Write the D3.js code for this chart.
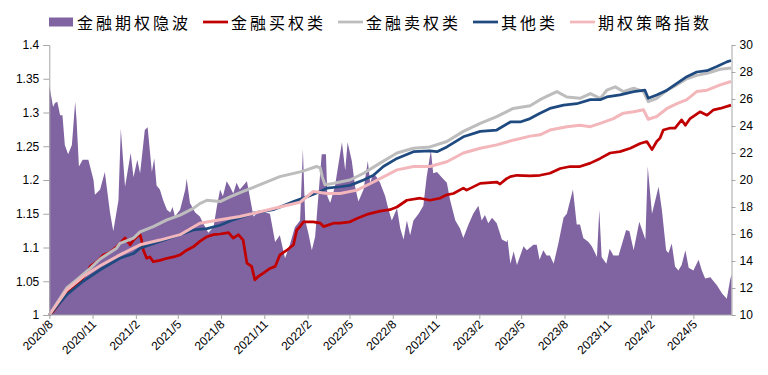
<!DOCTYPE html>
<html>
<head>
<meta charset="utf-8">
<script src="https://cdn.jsdelivr.net/npm/d3@7"></script>
<style>
  body { margin: 0; background: #fff; }
  svg { display: block; font-family: "Liberation Sans", Arial, sans-serif; }
</style>
</head>
<body>
<div id="chart"></div>
<script>
// 金融期权隐波 (right axis)
const ivData = [
  ["2020-08-01",27.0],["2020-08-09",25.4],["2020-08-13",25.7],["2020-08-18",25.8],["2020-08-24",24.8],
  ["2020-08-29",24.8],["2020-09-03",22.6],["2020-09-10",21.9],["2020-09-18",22.6],["2020-09-25",25.8],
  ["2020-09-28",24.4],["2020-10-03",21.0],["2020-10-11",21.5],["2020-10-23",21.5],["2020-11-03",20.0],
  ["2020-11-06",18.9],["2020-11-17",19.3],["2020-11-27",20.6],["2020-12-08",17.6],["2020-12-15",16.2],
  ["2020-12-26",18.5],["2020-12-31",23.8],["2021-01-09",19.5],["2021-01-21",22.0],["2021-01-27",20.2],
  ["2021-02-04",21.5],["2021-02-10",20.5],["2021-02-20",23.7],["2021-02-26",23.9],["2021-03-07",20.6],
  ["2021-03-12",21.6],["2021-03-17",19.6],["2021-03-24",19.3],["2021-03-31",18.5],["2021-04-08",17.8],
  ["2021-04-15",17.6],["2021-04-20",18.0],["2021-04-25",17.3],["2021-05-06",17.8],["2021-05-17",19.3],
  ["2021-05-20",20.1],["2021-05-27",18.3],["2021-06-07",17.6],["2021-06-17",17.3],["2021-06-24",16.8],
  ["2021-07-05",16.1],["2021-07-16",16.5],["2021-07-23",18.0],["2021-07-30",19.3],["2021-08-05",18.8],
  ["2021-08-13",19.9],["2021-08-20",19.5],["2021-08-27",19.0],["2021-09-03",19.8],["2021-09-10",19.3],
  ["2021-09-25",19.9],["2021-10-09",17.3],["2021-10-23",17.7],["2021-11-13",17.5],["2021-11-24",15.4],
  ["2021-12-04",15.9],["2021-12-15",14.2],["2021-12-26",15.3],["2022-01-05",16.5],["2022-01-16",17.0],
  ["2022-01-22",22.3],["2022-01-27",17.0],["2022-02-03",16.0],["2022-02-10",14.8],["2022-02-17",15.8],
  ["2022-03-03",21.9],["2022-03-12",21.9],["2022-03-15",18.8],["2022-03-21",18.3],["2022-03-31",19.5],
  ["2022-04-15",22.8],["2022-04-22",20.7],["2022-04-27",22.8],["2022-05-06",21.4],["2022-05-13",19.5],
  ["2022-05-20",18.4],["2022-05-31",19.3],["2022-06-09",21.4],["2022-06-14",19.8],["2022-06-21",20.5],
  ["2022-06-28",20.2],["2022-07-05",19.8],["2022-07-16",18.8],["2022-07-23",17.8],["2022-07-30",17.0],
  ["2022-08-10",17.9],["2022-08-17",16.4],["2022-08-24",15.6],["2022-08-31",17.0],["2022-09-07",15.9],
  ["2022-09-14",17.0],["2022-09-25",17.5],["2022-10-05",18.1],["2022-10-12",20.2],["2022-10-21",22.2],
  ["2022-10-26",20.5],["2022-11-03",20.6],["2022-11-13",20.2],["2022-11-24",19.8],["2022-12-01",18.5],
  ["2022-12-12",17.0],["2022-12-22",16.4],["2022-12-29",15.7],["2023-01-09",16.7],["2023-01-19",17.5],
  ["2023-01-30",18.1],["2023-02-06",17.0],["2023-02-13",17.4],["2023-02-20",16.8],["2023-02-28",17.2],
  ["2023-03-10",16.8],["2023-03-21",15.6],["2023-03-31",15.4],["2023-04-02",15.6],["2023-04-08",13.8],
  ["2023-04-15",14.7],["2023-04-22",13.7],["2023-05-06",15.1],["2023-05-13",14.8],["2023-05-27",15.2],
  ["2023-06-03",15.2],["2023-06-09",14.1],["2023-06-17",14.8],["2023-06-24",14.4],["2023-07-01",14.4],
  ["2023-07-09",13.8],["2023-07-19",15.3],["2023-07-30",17.2],["2023-08-06",17.5],["2023-08-19",19.3],
  ["2023-08-27",16.7],["2023-09-03",16.7],["2023-09-10",15.7],["2023-09-21",15.4],["2023-09-28",15.1],
  ["2023-10-09",14.3],["2023-10-14",17.8],["2023-10-19",14.3],["2023-10-29",13.8],["2023-11-05",14.9],
  ["2023-11-13",14.4],["2023-11-24",14.4],["2023-12-10",16.3],["2023-12-17",16.2],["2023-12-26",14.8],
  ["2024-01-07",16.9],["2024-01-20",15.6],["2024-01-25",21.0],["2024-02-03",17.5],["2024-02-17",19.5],
  ["2024-02-24",17.8],["2024-03-04",14.8],["2024-03-09",14.6],["2024-03-16",15.3],["2024-03-23",13.6],
  ["2024-03-30",13.3],["2024-04-06",13.7],["2024-04-14",14.8],["2024-04-21",13.5],["2024-05-01",13.3],
  ["2024-05-12",14.1],["2024-05-19",13.3],["2024-05-26",12.7],["2024-06-06",12.8],["2024-06-13",12.5],
  ["2024-06-20",12.2],["2024-07-01",11.6],["2024-07-11",11.2],["2024-07-18",12.6],["2024-07-21",13.0]
];

// 金融买权类
const buyCall = [
  ["2020-08-01",1.000],["2020-08-09",1.005],["2020-09-07",1.032],["2020-09-28",1.044],["2020-10-20",1.062],
  ["2020-10-27",1.072],["2020-11-10",1.079],["2020-11-24",1.089],["2020-12-08",1.093],["2020-12-22",1.101],
  ["2021-01-09",1.114],["2021-01-20",1.104],["2021-01-27",1.111],["2021-02-03",1.116],["2021-02-10",1.119],
  ["2021-02-13",1.111],["2021-02-17",1.096],["2021-02-24",1.084],["2021-03-03",1.086],["2021-03-10",1.079],
  ["2021-03-24",1.081],["2021-04-08",1.084],["2021-04-22",1.086],["2021-05-06",1.089],["2021-05-20",1.096],
  ["2021-06-03",1.101],["2021-06-17",1.109],["2021-07-02",1.116],["2021-07-16",1.119],["2021-07-30",1.120],
  ["2021-08-17",1.122],["2021-08-27",1.114],["2021-09-07",1.119],["2021-09-17",1.111],["2021-09-25",1.077],
  ["2021-10-05",1.072],["2021-10-12",1.052],["2021-10-19",1.057],["2021-10-30",1.062],["2021-11-13",1.069],
  ["2021-11-24",1.072],["2021-12-04",1.089],["2021-12-19",1.096],["2022-01-02",1.104],["2022-01-09",1.126],
  ["2022-01-16",1.131],["2022-01-23",1.138],["2022-02-13",1.138],["2022-02-28",1.136],["2022-03-07",1.131],
  ["2022-03-28",1.136],["2022-04-11",1.136],["2022-05-02",1.138],["2022-05-17",1.143],["2022-06-07",1.149],
  ["2022-07-05",1.154],["2022-07-26",1.156],["2022-08-10",1.160],["2022-08-31",1.170],["2022-09-28",1.173],
  ["2022-10-19",1.170],["2022-11-09",1.173],["2022-11-24",1.178],["2022-12-08",1.180],["2022-12-29",1.188],
  ["2023-01-05",1.185],["2023-02-03",1.195],["2023-03-10",1.197],["2023-03-17",1.194],["2023-03-31",1.202],
  ["2023-04-08",1.205],["2023-04-22",1.207],["2023-05-20",1.206],["2023-06-10",1.207],["2023-07-01",1.210],
  ["2023-07-23",1.217],["2023-08-13",1.220],["2023-09-03",1.220],["2023-09-25",1.225],["2023-10-16",1.232],
  ["2023-11-06",1.240],["2023-11-27",1.242],["2023-12-19",1.247],["2024-01-09",1.254],["2024-01-23",1.257],
  ["2024-02-03",1.245],["2024-02-13",1.257],["2024-02-20",1.262],["2024-02-27",1.274],["2024-03-13",1.277],
  ["2024-03-23",1.277],["2024-04-06",1.289],["2024-04-14",1.281],["2024-04-24",1.291],["2024-05-15",1.301],
  ["2024-05-30",1.296],["2024-06-13",1.304],["2024-06-27",1.306],["2024-07-20",1.311]
];

// 金融卖权类
const sellPut = [
  ["2020-08-01",1.000],["2020-09-07",1.040],["2020-09-28",1.052],["2020-10-27",1.069],["2020-11-17",1.083],
  ["2020-12-22",1.099],["2020-12-29",1.106],["2021-01-27",1.114],["2021-02-10",1.123],["2021-03-10",1.131],
  ["2021-04-08",1.141],["2021-05-06",1.148],["2021-06-03",1.158],["2021-06-17",1.165],["2021-07-02",1.170],
  ["2021-07-30",1.168],["2021-08-20",1.175],["2021-09-17",1.183],["2021-10-23",1.193],["2021-12-04",1.205],
  ["2022-01-16",1.212],["2022-01-30",1.215],["2022-02-20",1.220],["2022-02-28",1.218],["2022-03-04",1.205],
  ["2022-03-10",1.193],["2022-03-28",1.195],["2022-04-11",1.197],["2022-05-02",1.200],["2022-05-31",1.210],
  ["2022-07-05",1.225],["2022-08-10",1.240],["2022-09-14",1.247],["2022-10-19",1.249],["2022-11-24",1.257],
  ["2022-12-29",1.272],["2023-02-03",1.284],["2023-03-10",1.294],["2023-04-14",1.306],["2023-05-20",1.310],
  ["2023-06-10",1.319],["2023-07-01",1.326],["2023-07-16",1.331],["2023-08-06",1.323],["2023-09-03",1.321],
  ["2023-09-25",1.328],["2023-10-16",1.321],["2023-10-30",1.333],["2023-11-17",1.338],["2023-12-04",1.331],
  ["2023-12-26",1.336],["2024-01-16",1.331],["2024-01-26",1.316],["2024-02-13",1.321],["2024-03-06",1.333],
  ["2024-03-27",1.341],["2024-04-17",1.350],["2024-05-08",1.355],["2024-05-30",1.358],["2024-06-27",1.364],
  ["2024-07-20",1.366]
];

// 其他类
const others = [
  ["2020-08-01",1.000],["2020-09-07",1.030],["2020-10-12",1.050],["2020-11-17",1.067],["2020-12-29",1.084],
  ["2021-01-27",1.091],["2021-02-10",1.099],["2021-03-24",1.109],["2021-05-06",1.119],["2021-06-03",1.126],
  ["2021-07-02",1.128],["2021-07-30",1.133],["2021-08-27",1.141],["2021-10-09",1.151],["2021-11-20",1.156],
  ["2022-01-02",1.168],["2022-01-30",1.175],["2022-02-28",1.183],["2022-03-14",1.188],["2022-04-11",1.190],
  ["2022-05-02",1.192],["2022-05-31",1.200],["2022-06-21",1.207],["2022-07-12",1.220],["2022-08-10",1.232],
  ["2022-09-14",1.242],["2022-10-19",1.243],["2022-11-03",1.242],["2022-11-24",1.249],["2022-12-29",1.264],
  ["2023-02-03",1.272],["2023-03-10",1.274],["2023-04-08",1.286],["2023-04-29",1.286],["2023-05-20",1.291],
  ["2023-06-10",1.299],["2023-07-01",1.306],["2023-07-30",1.311],["2023-08-27",1.313],["2023-09-25",1.319],
  ["2023-10-16",1.319],["2023-10-30",1.323],["2023-11-27",1.326],["2023-12-26",1.331],["2024-01-19",1.333],
  ["2024-01-26",1.321],["2024-02-13",1.326],["2024-03-06",1.333],["2024-03-27",1.343],["2024-04-17",1.353],
  ["2024-05-08",1.360],["2024-05-30",1.362],["2024-06-20",1.368],["2024-07-11",1.375],["2024-07-20",1.377]
];

// 期权策略指数
const strategyIdx = [
  ["2020-08-01",1.000],["2020-09-07",1.037],["2020-10-12",1.057],["2020-11-17",1.073],["2020-12-29",1.089],
  ["2021-02-10",1.104],["2021-03-24",1.111],["2021-05-06",1.119],["2021-06-17",1.136],["2021-07-30",1.141],
  ["2021-09-10",1.146],["2021-10-23",1.153],["2021-12-04",1.160],["2022-01-16",1.167],["2022-02-13",1.183],
  ["2022-03-14",1.180],["2022-04-11",1.180],["2022-05-17",1.185],["2022-06-21",1.197],["2022-08-10",1.215],
  ["2022-09-14",1.220],["2022-10-19",1.220],["2022-11-24",1.227],["2022-12-29",1.240],["2023-02-03",1.247],
  ["2023-03-10",1.252],["2023-04-14",1.259],["2023-05-20",1.265],["2023-06-10",1.267],["2023-07-01",1.274],
  ["2023-08-06",1.279],["2023-09-03",1.281],["2023-09-25",1.279],["2023-10-16",1.284],["2023-11-13",1.291],
  ["2023-12-04",1.299],["2023-12-26",1.301],["2024-01-16",1.304],["2024-01-26",1.290],["2024-02-13",1.294],
  ["2024-03-06",1.306],["2024-03-27",1.313],["2024-04-17",1.319],["2024-05-08",1.331],["2024-05-30",1.333],
  ["2024-06-27",1.341],["2024-07-20",1.346]
];

const xTickDates = ["2020-08-01","2020-11-01","2021-02-01","2021-05-01","2021-08-01","2021-11-01",
  "2022-02-01","2022-05-01","2022-08-01","2022-11-01","2023-02-01","2023-05-01","2023-08-01",
  "2023-11-01","2024-02-01","2024-05-01"];
const leftTicks = [1, 1.05, 1.1, 1.15, 1.2, 1.25, 1.3, 1.35, 1.4];
const rightTicks = [10, 12, 14, 16, 18, 20, 22, 24, 26, 28, 30];

const width = 768, height = 375;
const plot = { left: 49.3, right: 731.5, top: 45, bottom: 315 };
const parse = d3.timeParse('%Y-%m-%d');

const svg = d3.select('#chart').append('svg')
  .attr('width', width).attr('height', height);

const x = d3.scaleTime()
  .domain([parse('2020-08-01'), parse('2024-07-21')])
  .range([plot.left, plot.right]);
const yL = d3.scaleLinear().domain([1, 1.4]).range([plot.bottom, plot.top]);
const yR = d3.scaleLinear().domain([10, 30]).range([plot.bottom, plot.top]);

const toPts = arr => arr.map(([d, v]) => ({ date: parse(d), v }));

// area (right axis)
svg.append('path')
  .datum(toPts(ivData))
  .attr('fill', '#8064A2')
  .attr('d', d3.area().x(d => x(d.date)).y0(yR(10)).y1(d => yR(d.v)));

// lines (left axis)
const line = d3.line().x(d => x(d.date)).y(d => yL(d.v));
const lineSeries = [
  { data: buyCall, color: '#C00000', w: 2.75 },
  { data: sellPut, color: '#BDBDBD', w: 3 },
  { data: others, color: '#1F4A80', w: 2.75 },
  { data: strategyIdx, color: '#F3B7BB', w: 3 },
];
lineSeries.forEach(s => {
  svg.append('path')
    .datum(toPts(s.data))
    .attr('fill', 'none')
    .attr('stroke', s.color)
    .attr('stroke-width', s.w)
    .attr('stroke-linejoin', 'round')
    .attr('d', line);
});

// axes
const axisColor = '#A6A6A6';
function styleAxis(g) {
  g.select('.domain').attr('stroke', axisColor);
  g.selectAll('.tick line').attr('stroke', axisColor);
  g.selectAll('.tick text').attr('fill', '#000').attr('font-size', 12)
    .attr('font-family', '"Liberation Sans", Arial, sans-serif');
}

svg.append('g')
  .attr('transform', `translate(${plot.left},0)`)
  .call(d3.axisLeft(yL).tickValues(leftTicks).tickSize(6).tickPadding(4)
    .tickFormat(d => String(+d.toFixed(2))))
  .call(styleAxis);

svg.append('g')
  .attr('transform', `translate(${plot.right},0)`)
  .call(d3.axisRight(yR).tickValues(rightTicks).tickSize(4).tickPadding(4))
  .call(styleAxis);

const xAxis = svg.append('g')
  .attr('transform', `translate(0,${plot.bottom})`)
  .call(d3.axisBottom(x).tickValues(xTickDates.map(parse)).tickSize(4)
    .tickFormat(d3.timeFormat('%Y/%-m')))
  .call(styleAxis);
xAxis.select('.domain').attr('d', `M${plot.left},0H${plot.right}`);
xAxis.selectAll('.tick text')
  .attr('text-anchor', 'end')
  .attr('x', 0).attr('y', 0).attr('dy', 0)
  .attr('transform', 'translate(4,10) rotate(-45)');

// legend
const legendItems = [
  { name: '金融期权隐波', type: 'rect', color: '#8064A2' },
  { name: '金融买权类', type: 'line', color: '#C00000' },
  { name: '金融卖权类', type: 'line', color: '#BDBDBD' },
  { name: '其他类', type: 'line', color: '#1F4A80' },
  { name: '期权策略指数', type: 'line', color: '#F3B7BB' },
];
const legend = svg.append('g').attr('transform', 'translate(49,22)');
let lx = 0;
legendItems.forEach(item => {
  if (item.type === 'rect') {
    legend.append('rect').attr('x', lx).attr('y', -4.5).attr('width', 24).attr('height', 9)
      .attr('fill', item.color);
  } else {
    legend.append('line').attr('x1', lx).attr('x2', lx + 25).attr('y1', 0).attr('y2', 0)
      .attr('stroke', item.color).attr('stroke-width', 2.75);
  }
  legend.append('text')
    .attr('x', lx + 28).attr('y', 0)
    .attr('dominant-baseline', 'central')
    .attr('font-family', '"Noto Sans CJK SC", sans-serif')
    .attr('font-size', 16)
    .attr('letter-spacing', 3)
    .attr('fill', '#000')
    .text(item.name);
  lx += 28 + item.name.length * 19 + 12;
});
</script>
</body>
</html>
